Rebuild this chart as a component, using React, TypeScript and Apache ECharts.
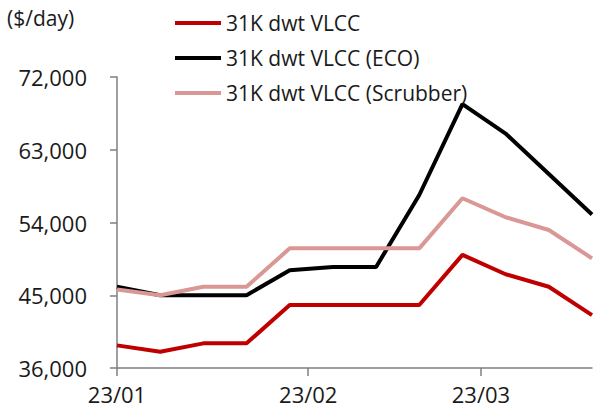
import React, { useEffect, useRef } from "react";
import * as echarts from "echarts";

const dates = [
  "2023-01-01", "2023-01-08", "2023-01-15", "2023-01-22", "2023-01-29", "2023-02-05",
  "2023-02-12", "2023-02-19", "2023-02-26", "2023-03-05", "2023-03-12", "2023-03-19",
];
const vlcc = [38800, 38000, 39050, 39050, 43800, 43800, 43800, 43800, 50000, 47600, 46050, 42550];
const vlccEco = [46050, 45000, 45000, 45000, 48100, 48500, 48500, 57400, 68650, 65000, 60000, 55000];
const vlccScrubber = [45700, 45000, 46050, 46050, 50800, 50800, 50800, 50800, 57000, 54650, 53070, 49570];
const seriesNames = ["31K dwt VLCC", "31K dwt VLCC (ECO)", "31K dwt VLCC (Scrubber)"];
const monthTicks = ["2023-01-01", "2023-02-01", "2023-03-01"];
const monthLabels = ["23/01", "23/02", "23/03"];
const yTicks = [36000, 45000, 54000, 63000, 72000];
const unitLabel = "($/day)";

const DAY = 86400000;
const base = Date.parse(dates[0]);
const dayOf = (d: string) => Math.round((Date.parse(d) - base) / DAY);

export default function App() {
  const ref = useRef<HTMLDivElement>(null);
  useEffect(() => {
    if (!ref.current) return;
    const chart = echarts.init(ref.current, null, { renderer: "svg" });
    const font = "Open Sans";
    const tickDays = monthTicks.map(dayOf);
    const mk = (name: string, vals: number[], color: string) => ({
      name,
      type: "line",
      data: vals.map((v, i) => [dayOf(dates[i]), v]),
      symbol: "none",
      lineStyle: { color, width: 4 },
      itemStyle: { color },
    });
    chart.setOption({
      animation: false,
      textStyle: { fontFamily: font },
      grid: { left: 117, top: 77, right: 4, bottom: 49, containLabel: false },
      legend: {
        orient: "vertical",
        left: 170,
        top: 6,
        itemWidth: 46,
        itemHeight: 4,
        itemGap: 11,
        icon: "rect",
        textStyle: { fontFamily: font, fontSize: 21, color: "#1a1a1a", lineHeight: 24 },
        data: seriesNames,
      },
      graphic: [
        {
          type: "text",
          left: 7,
          top: 7,
          style: { text: unitLabel, fontFamily: font, fontSize: 21, fill: "#1a1a1a" },
        },
      ],
      xAxis: {
        type: "value",
        min: 0,
        max: dayOf(dates[dates.length - 1]),
        axisLine: { show: true, lineStyle: { color: "#7f7f7f", width: 1.5 } },
        axisTick: { show: true, length: 8, customValues: tickDays, lineStyle: { color: "#7f7f7f", width: 1.5 } },
        axisLabel: {
          customValues: tickDays,
          formatter: (v: number) => monthLabels[tickDays.indexOf(Math.round(v))] ?? "",
          fontSize: 22,
          color: "#1a1a1a",
          margin: 15,
          fontFamily: font,
        },
        splitLine: { show: false },
      },
      yAxis: {
        type: "value",
        min: yTicks[0],
        max: yTicks[yTicks.length - 1],
        interval: 9000,
        axisLine: { show: true, lineStyle: { color: "#7f7f7f", width: 1.5 } },
        axisTick: { show: true, length: 7, lineStyle: { color: "#7f7f7f", width: 1.5 } },
        axisLabel: {
          formatter: (v: number) => v.toLocaleString("en-US"),
          fontSize: 22,
          color: "#1a1a1a",
          margin: 30,
          fontFamily: font,
        },
        splitLine: { show: false },
      },
      series: [
        mk(seriesNames[0], vlcc, "#C00000"),
        mk(seriesNames[1], vlccEco, "#000000"),
        mk(seriesNames[2], vlccScrubber, "#D99795"),
      ],
    });
    return () => chart.dispose();
  }, []);
  return <div ref={ref} style={{ width: 596, height: 417, position: "absolute", left: 0, top: 0 }} />;
}
